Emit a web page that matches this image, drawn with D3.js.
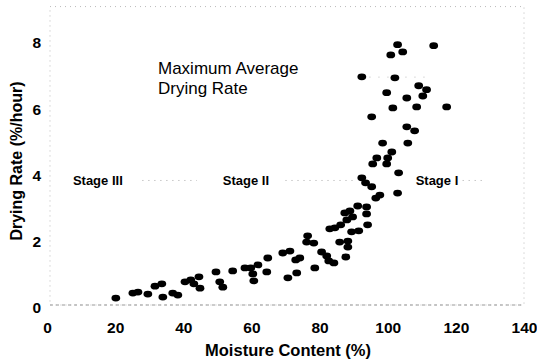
<!DOCTYPE html>
<html>
<head>
<meta charset="utf-8">
<script src="https://cdn.jsdelivr.net/npm/d3@7"></script>
<style>
  body { margin: 0; background: #fff; }
  svg { font-family: "Liberation Sans", Arial, sans-serif; }
</style>
</head>
<body>
<div class="chart"></div>
<script>
// moisture content (%) and drying rate (%/hour)
var moisture = [20.2, 25.2, 26.7, 29.6, 31.7, 33.7, 34.0, 36.9, 38.4, 40.5,
    42.2, 44.6, 43.1, 44.9, 49.6, 50.7, 51.6, 54.5, 58.1, 59.8,
    61.9, 60.4, 60.7, 64.5, 64.8, 69.2, 71.3, 73.0, 74.2, 70.7,
    73.3, 76.5, 76.2, 78.3, 78.6, 80.6, 82.1, 82.7, 84.2, 83.0,
    84.5, 86.2, 87.4, 88.9, 88.0, 89.7, 89.4, 91.5, 85.9, 88.3,
    88.3, 87.7, 91.2, 93.8, 93.8, 94.1, 92.4, 93.5, 95.3, 97.7,
    96.5, 102.9, 95.6, 99.7, 96.8, 100.0, 101.2, 103.2, 98.5, 105.9,
    105.6, 107.9, 95.3, 101.5, 108.5, 117.3, 99.7, 105.6, 109.1, 111.4,
    110.3, 102.1, 92.4, 102.9, 104.4, 100.9, 113.5];
var rate = [0.30, 0.45, 0.48, 0.42, 0.66, 0.73, 0.33, 0.45, 0.39, 0.79,
    0.85, 0.94, 0.73, 0.60, 1.09, 0.79, 0.63, 1.12, 1.21, 1.21,
    1.30, 1.03, 0.82, 1.09, 1.51, 1.66, 1.72, 1.45, 1.51, 0.91,
    1.06, 2.18, 1.99, 1.96, 1.21, 1.69, 1.57, 1.42, 1.36, 2.39,
    2.42, 2.51, 2.87, 2.93, 2.66, 2.75, 2.30, 2.33, 1.99, 2.02,
    1.84, 1.54, 3.08, 3.05, 2.84, 2.51, 3.93, 3.78, 3.66, 3.41,
    3.32, 3.47, 4.35, 4.35, 4.53, 4.53, 4.71, 4.08, 4.98, 4.98,
    5.47, 5.35, 5.77, 6.04, 6.07, 6.07, 6.50, 6.34, 6.71, 6.59,
    6.40, 6.95, 6.98, 7.95, 7.73, 7.64, 7.92];

var xTicks = [0, 20, 40, 60, 80, 100, 120, 140];
var yTicks = [0, 2, 4, 6, 8];

var stageLabels = ["Stage III", "Stage II", "Stage I"];
var stageLabelX = [7.6, 51.6, 108.2];
var stageRate = 3.85;
var stageDashes = [[28, 44], [70, 91], [122, 129]];

var maxRateText = ["Maximum Average", "Drying Rate"];
var maxRate = 6.97;
var maxRateSpan = [92, 113];

var width = 537, height = 363;

var svg = d3.select(".chart")
    .append("svg")
    .attr("width", width)
    .attr("height", height);

var x = d3.scaleLinear().domain([0, 140]).range([47, 524]);
var y = d3.scaleLinear().domain([0, 8]).range([308, 43]);

// faint dotted frame, like the scan
var frame = svg.append("g")
    .attr("stroke", "#bbb")
    .attr("stroke-width", 1)
    .attr("stroke-dasharray", "1,4")
    .attr("fill", "none");
frame.append("rect")
    .attr("x", x(0) + 3)
    .attr("y", y(9.1))
    .attr("width", x(140) - x(0) - 3)
    .attr("height", y(0) - 3 - y(9.1));
frame.append("line")
    .attr("x1", x(0) + 3).attr("x2", x(140))
    .attr("y1", y(0) - 3).attr("y2", y(0) - 3)
    .attr("stroke", "#999")
    .attr("stroke-dasharray", "3,3");

// x axis
var xAxis = svg.append("g")
    .attr("transform", "translate(0," + 321 + ")")
    .call(d3.axisBottom(x).tickValues(xTicks).tickSize(0).tickPadding(0));
xAxis.select(".domain").remove();
xAxis.selectAll("text")
    .attr("dy", "0.75em")
    .style("font-size", "15.5px")
    .style("font-weight", "bold")
    .style("font-family", "Liberation Sans, Arial, sans-serif")
    .attr("fill", "#000");

// y axis
var yAxis = svg.append("g")
    .attr("transform", "translate(" + 41 + ",0)")
    .call(d3.axisLeft(y).tickValues(yTicks).tickSize(0).tickPadding(0));
yAxis.select(".domain").remove();
yAxis.selectAll("text")
    .style("font-size", "15.5px")
    .style("font-weight", "bold")
    .style("font-family", "Liberation Sans, Arial, sans-serif")
    .attr("fill", "#000");

// axis titles
svg.append("text")
    .attr("x", 288)
    .attr("y", 356)
    .attr("text-anchor", "middle")
    .style("font-size", "16.5px")
    .style("font-weight", "bold")
    .text("Moisture Content (%)");

svg.append("text")
    .attr("transform", "translate(" + 22 + "," + 161 + ") rotate(-90)")
    .attr("text-anchor", "middle")
    .style("font-size", "16px")
    .style("font-weight", "bold")
    .text("Drying Rate (%/hour)");

// stage boundary line and labels
var stage_g = svg.append("g").attr("class", "stage-g");
stageDashes.forEach(function (d) {
    stage_g.append("line")
        .attr("x1", x(d[0])).attr("x2", x(d[1]))
        .attr("y1", y(stageRate)).attr("y2", y(stageRate))
        .attr("stroke", "#aaa")
        .attr("stroke-dasharray", "1,5");
});
stageLabels.forEach(function (t, i) {
    stage_g.append("text")
        .attr("x", x(stageLabelX[i]))
        .attr("y", y(stageRate))
        .attr("dy", "0.35em")
        .style("font-size", "13px")
        .style("font-weight", "bold")
        .text(t);
});

// maximum average drying rate
svg.append("line")
    .attr("x1", x(maxRateSpan[0])).attr("x2", x(maxRateSpan[1]))
    .attr("y1", y(maxRate)).attr("y2", y(maxRate))
    .attr("stroke", "#bbb")
    .attr("stroke-dasharray", "1,8");
maxRateText.forEach(function (t, i) {
    svg.append("text")
        .attr("x", 158)
        .attr("y", 68 + i * 20)
        .attr("dy", "0.35em")
        .style("font-size", "17px")
        .text(t);
});

// points
var dot_g = svg.append("g").attr("class", "dot-g");
for (var i = 0; i < moisture.length; ++i) {
    dot_g.append("ellipse")
        .attr("cx", x(moisture[i]))
        .attr("cy", y(rate[i]))
        .attr("rx", 4.4)
        .attr("ry", 3.4)
        .attr("fill", "#000");
}
</script>
</body>
</html>
